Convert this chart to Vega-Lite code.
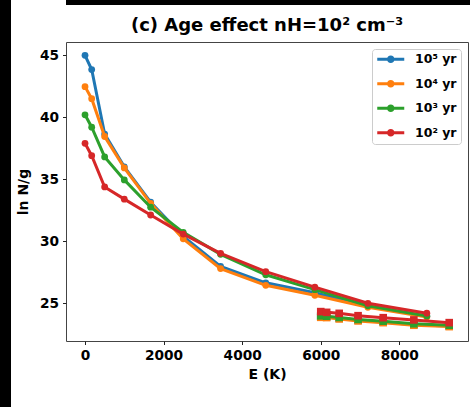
{
  "$schema": "https://vega.github.io/schema/vega-lite/v6.json",
  "background": "white",
  "padding": 0,
  "spacing": 4,
  "resolve": {"legend": {"color": "independent"}, "scale": {"color": "independent"}},
  "hconcat": [
    {
      "width": 11, "height": 407,
      "view": {"fill": "black", "stroke": null},
      "data": {"values": []},
      "mark": {"type": "rect", "opacity": 0}
    },
    {
      "spacing": 11,
      "resolve": {"legend": {"color": "independent"}, "scale": {"color": "independent"}},
      "vconcat": [
        {
          "width": 404, "height": 5,
          "view": {"fill": "black", "stroke": null},
          "data": {"values": []},
          "mark": {"type": "rect", "opacity": 0}
        },
        {
          "width": 402,
          "height": 299,
          "view": {"fill": "white", "stroke": "#444", "strokeWidth": 1},
          "title": {"text": "(c) Age effect nH=10² cm⁻³", "font": "DejaVu Sans", "fontSize": 18, "fontWeight": "bold", "color": "black", "offset": 7},
          "data": {"values": [
            {"age": "10⁵ yr", "set": "a", "E": 0, "v": 45.0},
            {"age": "10⁵ yr", "set": "a", "E": 170, "v": 43.85},
            {"age": "10⁵ yr", "set": "a", "E": 500, "v": 38.65},
            {"age": "10⁵ yr", "set": "a", "E": 1000, "v": 36.0},
            {"age": "10⁵ yr", "set": "a", "E": 1670, "v": 33.15},
            {"age": "10⁵ yr", "set": "a", "E": 2500, "v": 30.4},
            {"age": "10⁵ yr", "set": "a", "E": 3450, "v": 27.98},
            {"age": "10⁵ yr", "set": "a", "E": 4600, "v": 26.65},
            {"age": "10⁵ yr", "set": "a", "E": 5850, "v": 25.85},
            {"age": "10⁵ yr", "set": "a", "E": 7200, "v": 24.78},
            {"age": "10⁵ yr", "set": "a", "E": 8700, "v": 23.95},
            {"age": "10⁵ yr", "set": "b", "E": 6000, "v": 23.92},
            {"age": "10⁵ yr", "set": "b", "E": 6150, "v": 23.9},
            {"age": "10⁵ yr", "set": "b", "E": 6470, "v": 23.79},
            {"age": "10⁵ yr", "set": "b", "E": 6950, "v": 23.63},
            {"age": "10⁵ yr", "set": "b", "E": 7590, "v": 23.49},
            {"age": "10⁵ yr", "set": "b", "E": 8370, "v": 23.28},
            {"age": "10⁵ yr", "set": "b", "E": 9270, "v": 23.17},
            {"age": "10⁴ yr", "set": "a", "E": 0, "v": 42.47},
            {"age": "10⁴ yr", "set": "a", "E": 170, "v": 41.5},
            {"age": "10⁴ yr", "set": "a", "E": 500, "v": 38.45},
            {"age": "10⁴ yr", "set": "a", "E": 1000, "v": 35.92},
            {"age": "10⁴ yr", "set": "a", "E": 1670, "v": 33.06},
            {"age": "10⁴ yr", "set": "a", "E": 2500, "v": 30.2},
            {"age": "10⁴ yr", "set": "a", "E": 3450, "v": 27.8},
            {"age": "10⁴ yr", "set": "a", "E": 4600, "v": 26.45},
            {"age": "10⁴ yr", "set": "a", "E": 5850, "v": 25.65},
            {"age": "10⁴ yr", "set": "a", "E": 7200, "v": 24.68},
            {"age": "10⁴ yr", "set": "a", "E": 8700, "v": 23.9},
            {"age": "10⁴ yr", "set": "b", "E": 6000, "v": 23.87},
            {"age": "10⁴ yr", "set": "b", "E": 6150, "v": 23.85},
            {"age": "10⁴ yr", "set": "b", "E": 6470, "v": 23.74},
            {"age": "10⁴ yr", "set": "b", "E": 6950, "v": 23.58},
            {"age": "10⁴ yr", "set": "b", "E": 7590, "v": 23.44},
            {"age": "10⁴ yr", "set": "b", "E": 8370, "v": 23.23},
            {"age": "10⁴ yr", "set": "b", "E": 9270, "v": 23.12},
            {"age": "10³ yr", "set": "a", "E": 0, "v": 40.2},
            {"age": "10³ yr", "set": "a", "E": 170, "v": 39.2},
            {"age": "10³ yr", "set": "a", "E": 500, "v": 36.8},
            {"age": "10³ yr", "set": "a", "E": 1000, "v": 34.95},
            {"age": "10³ yr", "set": "a", "E": 1670, "v": 32.75},
            {"age": "10³ yr", "set": "a", "E": 2500, "v": 30.72},
            {"age": "10³ yr", "set": "a", "E": 3450, "v": 28.95},
            {"age": "10³ yr", "set": "a", "E": 4600, "v": 27.3},
            {"age": "10³ yr", "set": "a", "E": 5850, "v": 26.1},
            {"age": "10³ yr", "set": "a", "E": 7200, "v": 24.8},
            {"age": "10³ yr", "set": "a", "E": 8700, "v": 23.97},
            {"age": "10³ yr", "set": "b", "E": 6000, "v": 23.99},
            {"age": "10³ yr", "set": "b", "E": 6150, "v": 23.96},
            {"age": "10³ yr", "set": "b", "E": 6470, "v": 23.86},
            {"age": "10³ yr", "set": "b", "E": 6950, "v": 23.7},
            {"age": "10³ yr", "set": "b", "E": 7590, "v": 23.56},
            {"age": "10³ yr", "set": "b", "E": 8370, "v": 23.35},
            {"age": "10³ yr", "set": "b", "E": 9270, "v": 23.23},
            {"age": "10² yr", "set": "a", "E": 0, "v": 37.9},
            {"age": "10² yr", "set": "a", "E": 170, "v": 36.9},
            {"age": "10² yr", "set": "a", "E": 500, "v": 34.38},
            {"age": "10² yr", "set": "a", "E": 1000, "v": 33.4},
            {"age": "10² yr", "set": "a", "E": 1670, "v": 32.12},
            {"age": "10² yr", "set": "a", "E": 2500, "v": 30.58},
            {"age": "10² yr", "set": "a", "E": 3450, "v": 29.03},
            {"age": "10² yr", "set": "a", "E": 4600, "v": 27.55},
            {"age": "10² yr", "set": "a", "E": 5850, "v": 26.3},
            {"age": "10² yr", "set": "a", "E": 7200, "v": 25.0},
            {"age": "10² yr", "set": "a", "E": 8700, "v": 24.2},
            {"age": "10² yr", "set": "b", "E": 6000, "v": 24.33},
            {"age": "10² yr", "set": "b", "E": 6150, "v": 24.27},
            {"age": "10² yr", "set": "b", "E": 6470, "v": 24.19},
            {"age": "10² yr", "set": "b", "E": 6950, "v": 24.0},
            {"age": "10² yr", "set": "b", "E": 7590, "v": 23.84},
            {"age": "10² yr", "set": "b", "E": 8370, "v": 23.66},
            {"age": "10² yr", "set": "b", "E": 9270, "v": 23.44}
          ]},
          "encoding": {
            "x": {"field": "E", "type": "quantitative", "title": "E (K)",
                  "scale": {"domain": [-484, 9748], "nice": false, "zero": false},
                  "axis": {"values": [0, 2000, 4000, 6000, 8000], "grid": false, "format": "d", "domain": false}},
            "y": {"field": "v", "type": "quantitative", "title": "ln N/g",
                  "scale": {"domain": [21.96, 46.07], "nice": false, "zero": false},
                  "axis": {"values": [25, 30, 35, 40, 45], "grid": false, "domain": false}},
            "color": {"field": "age", "type": "nominal",
                      "scale": {"domain": ["10⁵ yr", "10⁴ yr", "10³ yr", "10² yr"], "range": ["#1f77b4", "#ff7f0e", "#2ca02c", "#d62728"]},
                      "legend": {"title": null, "orient": "top-right"}},
            "shape": {"field": "set", "type": "nominal", "scale": {"domain": ["a", "b"], "range": ["circle", "square"]}, "legend": null},
            "size": {"field": "set", "type": "ordinal", "scale": {"domain": ["a", "b"], "range": [46, 58]}, "legend": null},
            "detail": {"field": "set"}
          },
          "layer": [
            {"transform": [{"filter": "datum.age == '10⁵ yr'"}], "mark": {"type": "line", "strokeWidth": 3}, "encoding": {"shape": null, "size": null}},
            {"transform": [{"filter": "datum.age == '10⁵ yr'"}], "mark": {"type": "point", "filled": true, "opacity": 1}},
            {"transform": [{"filter": "datum.age == '10⁴ yr'"}], "mark": {"type": "line", "strokeWidth": 3}, "encoding": {"shape": null, "size": null}},
            {"transform": [{"filter": "datum.age == '10⁴ yr'"}], "mark": {"type": "point", "filled": true, "opacity": 1}},
            {"transform": [{"filter": "datum.age == '10³ yr'"}], "mark": {"type": "line", "strokeWidth": 3}, "encoding": {"shape": null, "size": null}},
            {"transform": [{"filter": "datum.age == '10³ yr'"}], "mark": {"type": "point", "filled": true, "opacity": 1}},
            {"transform": [{"filter": "datum.age == '10² yr'"}], "mark": {"type": "line", "strokeWidth": 3}, "encoding": {"shape": null, "size": null}},
            {"transform": [{"filter": "datum.age == '10² yr'"}], "mark": {"type": "point", "filled": true, "opacity": 1}}
          ]
        }
      ]
    }
  ],
  "config": {
    "axis": {
      "tickColor": "#222", "tickSize": 3.5,
      "labelFont": "DejaVu Sans", "labelFontWeight": "bold", "labelFontSize": 13.7, "labelColor": "black",
      "titleFont": "DejaVu Sans", "titleFontWeight": "bold", "titleFontSize": 14, "titleColor": "black"
    },
    "axisX": {"labelPadding": 4, "titlePadding": 5},
    "axisY": {"labelPadding": 4, "titlePadding": 9},
    "legend": {
      "orient": "top-right", "offset": 7, "padding": 4,
      "strokeColor": "#ccc", "fillColor": "white", "cornerRadius": 3,
      "symbolType": "M-2.7,-0.3H2.7V0.3H-2.7Z M0,-0.75A0.75,0.75 0 1,1 0,0.75A0.75,0.75 0 1,1 0,-0.75Z",
      "symbolSize": 100, "symbolStrokeWidth": 0, "symbolOffset": 8.5,
      "labelFont": "DejaVu Sans", "labelFontWeight": "bold", "labelFontSize": 12.5, "labelColor": "black",
      "labelOffset": 18, "rowPadding": 11.5
    }
  }
}
